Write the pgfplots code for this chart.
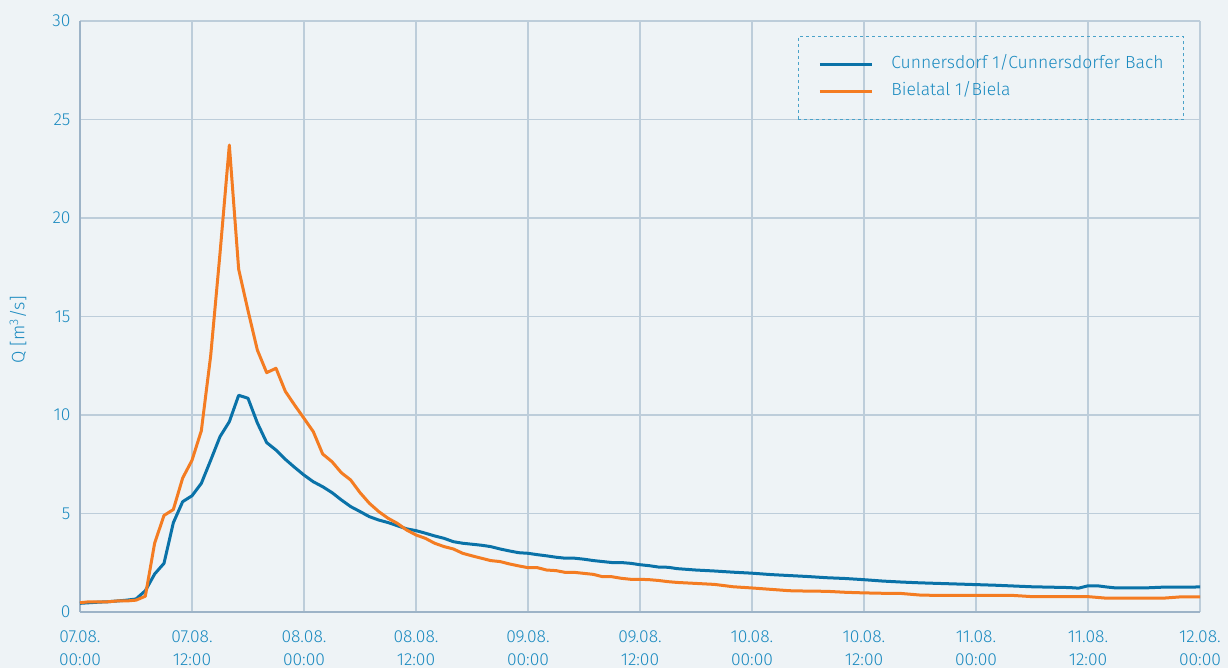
\documentclass[border=0pt]{standalone}
\usepackage{pgfplots}
\pgfplotsset{compat=1.18}
\usepackage{pgfplotstable}
\usepackage{fontspec}
\setmainfont{Fira Sans}[UprightFont={* Light}]
\definecolor{bg}{HTML}{EEF3F6}
\definecolor{gridc}{HTML}{BDCDDA}
\definecolor{axc}{HTML}{9DB3C7}
\definecolor{txt}{HTML}{1A8AC0}
\definecolor{lblue}{HTML}{0A72A8}
\definecolor{lorange}{HTML}{F47C22}
\definecolor{legc}{HTML}{4AA2C9}

\pgfplotstableread{
h v
0 0.44
1 0.47
2 0.50
3 0.52
4 0.56
5 0.60
6 0.66
7 1.08
8 1.93
9 2.47
10 4.53
11 5.60
12 5.90
13 6.53
14 7.70
15 8.90
16 9.66
17 11.00
18 10.85
19 9.60
20 8.60
21 8.22
22 7.75
23 7.34
24 6.95
25 6.61
26 6.36
27 6.06
28 5.69
29 5.35
30 5.10
31 4.84
32 4.67
33 4.54
34 4.38
35 4.22
36 4.13
37 4.00
38 3.86
39 3.74
40 3.57
41 3.49
42 3.44
43 3.39
44 3.32
45 3.20
46 3.10
47 3.01
48 2.98
49 2.91
50 2.85
51 2.78
52 2.73
53 2.73
54 2.68
55 2.61
56 2.56
57 2.51
58 2.51
59 2.47
60 2.40
61 2.35
62 2.28
63 2.27
64 2.20
66 2.13
68 2.08
70 2.02
72 1.97
74 1.90
76 1.85
78 1.80
80 1.74
82 1.70
84 1.64
86 1.57
88 1.52
90 1.48
92 1.45
94 1.42
96 1.39
98 1.36
100 1.32
102 1.28
104 1.26
106 1.24
107 1.21
108 1.33
109 1.33
110 1.27
111 1.22
114 1.22
116 1.26
120 1.27
}\blue

\pgfplotstableread{
h v
0 0.47
1 0.52
2 0.52
3 0.52
4 0.56
5 0.56
6 0.60
7 0.80
8 3.50
9 4.90
10 5.20
11 6.80
12 7.70
13 9.20
14 13.00
15 18.20
16 23.70
17 17.40
18 15.30
19 13.30
20 12.15
21 12.37
22 11.20
23 10.50
24 9.83
25 9.15
26 8.02
27 7.63
28 7.07
29 6.70
30 6.06
31 5.52
32 5.10
33 4.76
34 4.50
35 4.16
36 3.91
37 3.74
38 3.49
39 3.32
40 3.20
41 2.98
42 2.85
43 2.73
44 2.61
45 2.56
46 2.44
47 2.34
48 2.25
49 2.25
50 2.13
51 2.10
52 2.01
53 2.01
54 1.96
55 1.91
56 1.79
57 1.79
58 1.71
59 1.66
60 1.66
61 1.64
62 1.60
63 1.54
64 1.50
66 1.45
68 1.40
70 1.28
72 1.22
74 1.15
76 1.08
78 1.06
80 1.05
82 1.00
84 0.97
86 0.95
88 0.94
90 0.86
92 0.84
100 0.84
102 0.78
108 0.78
110 0.70
116 0.70
118 0.77
120 0.77
}\orange

\begin{document}
\begin{tikzpicture}[x=1bp,y=1bp]
\useasboundingbox (-80,-56) rectangle (1148,612);
\fill[bg] (-80,-56) rectangle (1148,612);
\begin{axis}[
  at={(0,0)}, anchor=south west,
  scale only axis, width=1120bp, height=591bp,
  xmin=0, xmax=120, ymin=0, ymax=30,
  xtick={0,12,...,120},
  xticklabels={{07.08.\\00:00},{07.08.\\12:00},{08.08.\\00:00},{08.08.\\12:00},{09.08.\\00:00},{09.08.\\12:00},{10.08.\\00:00},{10.08.\\12:00},{11.08.\\00:00},{11.08.\\12:00},{12.08.\\00:00}},
  ytick={0,5,...,30},
  /pgf/number format/assume math mode=true,
  grid=major,
  major grid style={draw=gridc, line width=1.2bp},
  axis lines=left,
  axis line style={-, draw=axc, line width=2bp},
  major tick length=0pt,
  ticklabel style={font=\fontsize{17.5}{23.5}\selectfont, text=txt},
  xticklabel style={align=center, yshift=-15bp},
  yticklabel style={xshift=-6bp},
  ylabel={Q [m\textsuperscript{3}/s]},
  every axis y label/.style={at={(axis description cs:-0.0554,0.477)}, rotate=90, anchor=center, font=\fontsize{18}{20}\selectfont, text=txt},
  legend style={draw=legc, dashed, line width=1bp, fill=none, at={(0.9857,0.9746)}, anchor=north east,
    inner xsep=20bp, inner ysep=20bp, row sep=11bp, column sep=0bp,
    font=\fontsize{17.6}{20}\selectfont, text=txt,
    nodes={inner sep=0pt, text height=12bp, text depth=4bp, solid}},
  legend cell align=left,
  legend image code/.code={\draw[#1, solid, line width=3bp] (0bp,0bp) -- (52bp,0bp); \path (70bp,0bp);},
]
\addplot[lblue, line width=3bp, line join=round] table[x=h,y=v] {\blue};
\addlegendentry{Cunnersdorf 1/Cunnersdorfer Bach}
\addplot[lorange, line width=3bp, line join=round] table[x=h,y=v] {\orange};
\addlegendentry{Bielatal 1/Biela}
\end{axis}
\end{tikzpicture}
\end{document}
